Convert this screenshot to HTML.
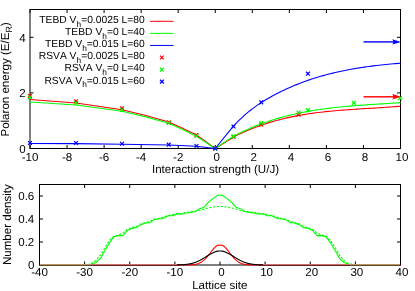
<!DOCTYPE html>
<html><head><meta charset="utf-8"><style>
html,body{margin:0;padding:0;background:#fff;}
svg{display:block;}
text{font-family:"Liberation Sans",sans-serif;font-size:11.55px;fill:#000;text-rendering:geometricPrecision;font-kerning:none;}
</style></head><body>
<svg width="415" height="291" viewBox="0 0 415 291">
<defs><filter id="idf" x="0" y="0" width="415" height="291" filterUnits="userSpaceOnUse" color-interpolation-filters="sRGB"><feOffset dx="0" dy="0"/></filter></defs>
<rect width="415" height="291" fill="#fff"/>
<g fill="none" stroke="#000" stroke-width="1">
<rect x="30.0" y="9.5" width="370.5" height="139.0"/>
<rect x="39.5" y="184.5" width="361.0" height="80.5"/>
<path d="M30.00,148.5 V145.0 M30.00,9.5 V13.0 M67.05,148.5 V145.0 M67.05,9.5 V13.0 M104.10,148.5 V145.0 M104.10,9.5 V13.0 M141.15,148.5 V145.0 M141.15,9.5 V13.0 M178.20,148.5 V145.0 M178.20,9.5 V13.0 M215.25,148.5 V145.0 M215.25,9.5 V13.0 M252.30,148.5 V145.0 M252.30,9.5 V13.0 M289.35,148.5 V145.0 M289.35,9.5 V13.0 M326.40,148.5 V145.0 M326.40,9.5 V13.0 M363.45,148.5 V145.0 M363.45,9.5 V13.0 M400.50,148.5 V145.0 M400.50,9.5 V13.0 M30.0,148.5 H33.5 M400.5,148.5 H397.0 M30.0,92.9 H33.5 M400.5,92.9 H397.0 M30.0,37.3 H33.5 M400.5,37.3 H397.0 M39.50,265.0 V261.5 M39.50,184.5 V188.0 M84.62,265.0 V261.5 M84.62,184.5 V188.0 M129.75,265.0 V261.5 M129.75,184.5 V188.0 M174.88,265.0 V261.5 M174.88,184.5 V188.0 M220.00,265.0 V261.5 M220.00,184.5 V188.0 M265.12,265.0 V261.5 M265.12,184.5 V188.0 M310.25,265.0 V261.5 M310.25,184.5 V188.0 M355.38,265.0 V261.5 M355.38,184.5 V188.0 M400.50,265.0 V261.5 M400.50,184.5 V188.0 M39.5,265.00 H43.0 M400.5,265.00 H397.0 M39.5,242.00 H43.0 M400.5,242.00 H397.0 M39.5,219.00 H43.0 M400.5,219.00 H397.0 M39.5,196.00 H43.0 M400.5,196.00 H397.0"/>
</g>
<g fill="none" stroke-width="1.1" stroke-linejoin="round">
<path d="M30.00,99.50 L76.00,103.00 L122.00,109.70 L145.00,115.20 L168.75,122.00 L182.60,128.20 L196.50,135.00 L215.25,148.50 L233.60,137.04 L236.02,135.81 L238.44,134.62 L240.86,133.47 L243.28,132.36 L245.69,131.28 L248.11,130.24 L250.53,129.24 L252.95,128.27 L255.37,127.33 L257.79,126.42 L260.21,125.55 L262.63,124.71 L265.04,123.90 L267.46,123.13 L269.88,122.38 L272.30,121.66 L274.72,120.96 L277.14,120.30 L279.56,119.66 L281.98,119.05 L284.40,118.46 L286.81,117.90 L289.23,117.36 L291.65,116.84 L294.07,116.35 L296.49,115.88 L298.91,115.43 L301.33,115.00 L303.75,114.59 L306.17,114.20 L308.58,113.83 L311.00,113.47 L313.42,113.13 L315.84,112.81 L318.26,112.51 L320.68,112.21 L323.10,111.94 L325.52,111.67 L327.93,111.42 L330.35,111.18 L332.77,110.95 L335.19,110.73 L337.61,110.52 L340.03,110.32 L342.45,110.13 L344.87,109.95 L347.29,109.77 L349.70,109.60 L352.12,109.43 L354.54,109.27 L356.96,109.12 L359.38,108.96 L361.80,108.81 L364.22,108.67 L366.64,108.52 L369.06,108.37 L371.47,108.23 L373.89,108.08 L376.31,107.93 L378.73,107.78 L381.15,107.63 L383.57,107.47 L385.99,107.31 L388.41,107.14 L390.82,106.97 L393.24,106.79 L395.66,106.60 L398.08,106.41 L400.50,106.21" stroke="#ff0000"/>
<path d="M30.00,102.00 L76.00,105.00 L122.00,111.20 L145.00,116.60 L168.75,123.30 L182.60,129.50 L196.50,136.30 L215.25,148.50 L233.60,136.15 L236.02,134.90 L238.44,133.68 L240.86,132.50 L243.28,131.36 L245.69,130.25 L248.11,129.17 L250.53,128.12 L252.95,127.11 L255.37,126.13 L257.79,125.17 L260.21,124.25 L262.63,123.36 L265.04,122.50 L267.46,121.67 L269.88,120.86 L272.30,120.08 L274.72,119.33 L277.14,118.60 L279.56,117.90 L281.98,117.23 L284.40,116.58 L286.81,115.95 L289.23,115.35 L291.65,114.76 L294.07,114.21 L296.49,113.67 L298.91,113.15 L301.33,112.66 L303.75,112.18 L306.17,111.72 L308.58,111.28 L311.00,110.86 L313.42,110.46 L315.84,110.07 L318.26,109.70 L320.68,109.35 L323.10,109.01 L325.52,108.69 L327.93,108.38 L330.35,108.08 L332.77,107.79 L335.19,107.52 L337.61,107.26 L340.03,107.01 L342.45,106.77 L344.87,106.54 L347.29,106.32 L349.70,106.11 L352.12,105.91 L354.54,105.71 L356.96,105.53 L359.38,105.34 L361.80,105.17 L364.22,105.00 L366.64,104.83 L369.06,104.67 L371.47,104.51 L373.89,104.35 L376.31,104.20 L378.73,104.05 L381.15,103.90 L383.57,103.75 L385.99,103.60 L388.41,103.45 L390.82,103.29 L393.24,103.14 L395.66,102.99 L398.08,102.83 L400.50,102.66" stroke="#00ff00"/>
<path d="M30.00,143.50 L76.00,143.60 L122.00,144.25 L168.75,145.00 L196.50,146.30 L215.25,148.50 L233.60,125.95 L236.02,123.36 L238.44,120.90 L240.86,118.55 L243.28,116.32 L245.69,114.18 L248.11,112.15 L250.53,110.21 L252.95,108.35 L255.37,106.58 L257.79,104.89 L260.21,103.27 L262.63,101.72 L265.04,100.22 L267.46,98.78 L269.88,97.40 L272.30,96.05 L274.72,94.75 L277.14,93.48 L279.56,92.25 L281.98,91.06 L284.40,89.90 L286.81,88.78 L289.23,87.69 L291.65,86.64 L294.07,85.61 L296.49,84.62 L298.91,83.66 L301.33,82.74 L303.75,81.84 L306.17,80.97 L308.58,80.12 L311.00,79.31 L313.42,78.52 L315.84,77.76 L318.26,77.02 L320.68,76.31 L323.10,75.62 L325.52,74.96 L327.93,74.32 L330.35,73.70 L332.77,73.11 L335.19,72.53 L337.61,71.98 L340.03,71.45 L342.45,70.94 L344.87,70.45 L347.29,69.97 L349.70,69.52 L352.12,69.08 L354.54,68.66 L356.96,68.26 L359.38,67.87 L361.80,67.50 L364.22,67.14 L366.64,66.80 L369.06,66.47 L371.47,66.15 L373.89,65.85 L376.31,65.56 L378.73,65.28 L381.15,65.01 L383.57,64.76 L385.99,64.51 L388.41,64.27 L390.82,64.04 L393.24,63.82 L395.66,63.61 L398.08,63.40 L400.50,63.20" stroke="#0000ff"/>
</g>
<path d="M28.10,94.10 L31.90,97.90 M28.10,97.90 L31.90,94.10" stroke="#ff0000" stroke-width="1.25" fill="none"/>
<path d="M74.10,99.35 L77.90,103.15 M74.10,103.15 L77.90,99.35" stroke="#ff0000" stroke-width="1.25" fill="none"/>
<path d="M120.10,106.35 L123.90,110.15 M120.10,110.15 L123.90,106.35" stroke="#ff0000" stroke-width="1.25" fill="none"/>
<path d="M166.85,120.40 L170.65,124.20 M166.85,124.20 L170.65,120.40" stroke="#ff0000" stroke-width="1.25" fill="none"/>
<path d="M194.60,133.10 L198.40,136.90 M194.60,136.90 L198.40,133.10" stroke="#ff0000" stroke-width="1.25" fill="none"/>
<path d="M213.35,146.60 L217.15,150.40 M213.35,150.40 L217.15,146.60" stroke="#ff0000" stroke-width="1.25" fill="none"/>
<path d="M231.60,135.10 L235.40,138.90 M231.60,138.90 L235.40,135.10" stroke="#ff0000" stroke-width="1.25" fill="none"/>
<path d="M259.35,122.80 L263.15,126.60 M259.35,126.60 L263.15,122.80" stroke="#ff0000" stroke-width="1.25" fill="none"/>
<path d="M296.70,112.70 L300.50,116.50 M296.70,116.50 L300.50,112.70" stroke="#ff0000" stroke-width="1.25" fill="none"/>
<path d="M28.10,95.60 L31.90,99.40 M28.10,99.40 L31.90,95.60" stroke="#00ff00" stroke-width="1.25" fill="none"/>
<path d="M74.10,101.10 L77.90,104.90 M74.10,104.90 L77.90,101.10" stroke="#00ff00" stroke-width="1.25" fill="none"/>
<path d="M120.10,108.10 L123.90,111.90 M120.10,111.90 L123.90,108.10" stroke="#00ff00" stroke-width="1.25" fill="none"/>
<path d="M166.85,121.10 L170.65,124.90 M166.85,124.90 L170.65,121.10" stroke="#00ff00" stroke-width="1.25" fill="none"/>
<path d="M194.60,134.10 L198.40,137.90 M194.60,137.90 L198.40,134.10" stroke="#00ff00" stroke-width="1.25" fill="none"/>
<path d="M213.35,146.60 L217.15,150.40 M213.35,150.40 L217.15,146.60" stroke="#00ff00" stroke-width="1.25" fill="none"/>
<path d="M231.60,134.40 L235.40,138.20 M231.60,138.20 L235.40,134.40" stroke="#00ff00" stroke-width="1.25" fill="none"/>
<path d="M259.35,121.10 L263.15,124.90 M259.35,124.90 L263.15,121.10" stroke="#00ff00" stroke-width="1.25" fill="none"/>
<path d="M296.70,110.60 L300.50,114.40 M296.70,114.40 L300.50,110.60" stroke="#00ff00" stroke-width="1.25" fill="none"/>
<path d="M306.00,108.20 L309.80,112.00 M306.00,112.00 L309.80,108.20" stroke="#00ff00" stroke-width="1.25" fill="none"/>
<path d="M352.00,101.00 L355.80,104.80 M352.00,104.80 L355.80,101.00" stroke="#00ff00" stroke-width="1.25" fill="none"/>
<path d="M398.10,96.20 L401.90,100.00 M398.10,100.00 L401.90,96.20" stroke="#00ff00" stroke-width="1.25" fill="none"/>
<path d="M28.10,141.10 L31.90,144.90 M28.10,144.90 L31.90,141.10" stroke="#0000ff" stroke-width="1.25" fill="none"/>
<path d="M74.10,141.10 L77.90,144.90 M74.10,144.90 L77.90,141.10" stroke="#0000ff" stroke-width="1.25" fill="none"/>
<path d="M120.10,141.85 L123.90,145.65 M120.10,145.65 L123.90,141.85" stroke="#0000ff" stroke-width="1.25" fill="none"/>
<path d="M166.85,142.80 L170.65,146.60 M166.85,146.60 L170.65,142.80" stroke="#0000ff" stroke-width="1.25" fill="none"/>
<path d="M194.60,144.10 L198.40,147.90 M194.60,147.90 L198.40,144.10" stroke="#0000ff" stroke-width="1.25" fill="none"/>
<path d="M213.35,146.60 L217.15,150.40 M213.35,150.40 L217.15,146.60" stroke="#0000ff" stroke-width="1.25" fill="none"/>
<path d="M231.60,124.60 L235.40,128.40 M231.60,128.40 L235.40,124.60" stroke="#0000ff" stroke-width="1.25" fill="none"/>
<path d="M259.35,100.40 L263.15,104.20 M259.35,104.20 L263.15,100.40" stroke="#0000ff" stroke-width="1.25" fill="none"/>
<path d="M306.00,71.80 L309.80,75.60 M306.00,75.60 L309.80,71.80" stroke="#0000ff" stroke-width="1.25" fill="none"/>
<path d="M363.5,41.9 H395" stroke="#0000ff" stroke-width="1.4" fill="none"/>
<path d="M400.9,41.9 L392.4,39.2 L393.6,41.9 L392.4,44.6 Z" fill="#0000ff"/>
<path d="M363.5,96.8 H395" stroke="#ff0000" stroke-width="1.4" fill="none"/>
<path d="M400.9,96.8 L392.4,94.1 L393.6,96.8 L392.4,99.5 Z" fill="#ff0000"/>
<path d="M150,21.30 H173.5" stroke="#ff0000" stroke-width="1" fill="none"/><path d="M150,33.37 H173.5" stroke="#00ff00" stroke-width="1" fill="none"/><path d="M150,45.44 H173.5" stroke="#0000ff" stroke-width="1" fill="none"/><path d="M160.00,55.61 L163.80,59.41 M160.00,59.41 L163.80,55.61" stroke="#ff0000" stroke-width="1.25" fill="none"/><path d="M160.00,67.68 L163.80,71.48 M160.00,71.48 L163.80,67.68" stroke="#00ff00" stroke-width="1.25" fill="none"/><path d="M160.00,79.75 L163.80,83.55 M160.00,83.55 L163.80,79.75" stroke="#0000ff" stroke-width="1.25" fill="none"/>
<g fill="none" stroke-width="1.1" stroke-linejoin="round">
<path d="M39.50,265.00 L40.63,265.00 L41.76,265.00 L42.88,265.00 L44.01,265.00 L45.14,265.00 L46.27,265.00 L47.40,265.00 L48.52,265.00 L49.65,265.00 L50.78,265.00 L51.91,265.00 L53.04,265.00 L54.17,265.00 L55.29,265.00 L56.42,265.00 L57.55,265.00 L58.68,265.00 L59.81,265.00 L60.93,265.00 L62.06,265.00 L63.19,265.00 L64.32,265.00 L65.45,265.00 L66.58,265.00 L67.70,265.00 L68.83,265.00 L69.96,265.00 L71.09,265.00 L72.22,265.00 L73.34,265.00 L74.47,265.00 L75.60,265.00 L76.73,265.00 L77.86,265.00 L78.98,265.00 L80.11,265.00 L81.24,265.00 L82.37,265.00 L83.50,265.00 L84.62,265.00 L85.75,265.00 L86.88,265.00 L88.01,265.00 L89.14,265.00 L90.27,265.00 L91.39,265.00 L92.52,265.00 L93.65,265.00 L94.78,265.00 L95.91,265.00 L97.03,265.00 L98.16,265.00 L99.29,265.00 L100.42,265.00 L101.55,265.00 L102.67,265.00 L103.80,265.00 L104.93,265.00 L106.06,265.00 L107.19,265.00 L108.32,265.00 L109.44,265.00 L110.57,265.00 L111.70,265.00 L112.83,265.00 L113.96,265.00 L115.08,265.00 L116.21,265.00 L117.34,265.00 L118.47,265.00 L119.60,265.00 L120.72,265.00 L121.85,265.00 L122.98,265.00 L124.11,265.00 L125.24,265.00 L126.37,265.00 L127.49,265.00 L128.62,265.00 L129.75,265.00 L130.88,265.00 L132.01,265.00 L133.13,265.00 L134.26,265.00 L135.39,265.00 L136.52,265.00 L137.65,265.00 L138.78,265.00 L139.90,265.00 L141.03,265.00 L142.16,265.00 L143.29,265.00 L144.42,265.00 L145.54,265.00 L146.67,265.00 L147.80,265.00 L148.93,265.00 L150.06,265.00 L151.18,265.00 L152.31,265.00 L153.44,265.00 L154.57,265.00 L155.70,265.00 L156.82,265.00 L157.95,265.00 L159.08,265.00 L160.21,265.00 L161.34,265.00 L162.47,265.00 L163.59,265.00 L164.72,265.00 L165.85,265.00 L166.98,265.00 L168.11,265.00 L169.23,265.00 L170.36,265.00 L171.49,265.00 L172.62,265.00 L173.75,265.00 L174.88,265.00 L176.00,265.00 L177.13,265.00 L178.26,265.00 L179.39,265.00 L180.52,265.00 L181.64,264.99 L182.77,264.99 L183.90,264.99 L185.03,264.98 L186.16,264.97 L187.28,264.95 L188.41,264.92 L189.54,264.88 L190.67,264.83 L191.80,264.76 L192.93,264.65 L194.05,264.52 L195.18,264.34 L196.31,264.10 L197.44,263.80 L198.57,263.41 L199.69,262.94 L200.82,262.36 L201.95,261.66 L203.08,260.84 L204.21,259.90 L205.33,258.82 L206.46,257.62 L207.59,256.32 L208.72,254.92 L209.85,253.47 L210.97,251.99 L212.10,250.53 L213.23,249.14 L214.36,247.85 L215.49,246.73 L216.62,245.83 L217.74,245.27 L218.87,245.16 L220.00,245.22 L221.13,245.16 L222.26,245.27 L223.38,245.83 L224.51,246.73 L225.64,247.85 L226.77,249.14 L227.90,250.53 L229.03,251.99 L230.15,253.47 L231.28,254.92 L232.41,256.32 L233.54,257.62 L234.67,258.82 L235.79,259.90 L236.92,260.84 L238.05,261.66 L239.18,262.36 L240.31,262.94 L241.43,263.41 L242.56,263.80 L243.69,264.10 L244.82,264.34 L245.95,264.52 L247.07,264.65 L248.20,264.76 L249.33,264.83 L250.46,264.88 L251.59,264.92 L252.72,264.95 L253.84,264.97 L254.97,264.98 L256.10,264.99 L257.23,264.99 L258.36,264.99 L259.48,265.00 L260.61,265.00 L261.74,265.00 L262.87,265.00 L264.00,265.00 L265.12,265.00 L266.25,265.00 L267.38,265.00 L268.51,265.00 L269.64,265.00 L270.77,265.00 L271.89,265.00 L273.02,265.00 L274.15,265.00 L275.28,265.00 L276.41,265.00 L277.53,265.00 L278.66,265.00 L279.79,265.00 L280.92,265.00 L282.05,265.00 L283.18,265.00 L284.30,265.00 L285.43,265.00 L286.56,265.00 L287.69,265.00 L288.82,265.00 L289.94,265.00 L291.07,265.00 L292.20,265.00 L293.33,265.00 L294.46,265.00 L295.58,265.00 L296.71,265.00 L297.84,265.00 L298.97,265.00 L300.10,265.00 L301.23,265.00 L302.35,265.00 L303.48,265.00 L304.61,265.00 L305.74,265.00 L306.87,265.00 L307.99,265.00 L309.12,265.00 L310.25,265.00 L311.38,265.00 L312.51,265.00 L313.63,265.00 L314.76,265.00 L315.89,265.00 L317.02,265.00 L318.15,265.00 L319.27,265.00 L320.40,265.00 L321.53,265.00 L322.66,265.00 L323.79,265.00 L324.92,265.00 L326.04,265.00 L327.17,265.00 L328.30,265.00 L329.43,265.00 L330.56,265.00 L331.68,265.00 L332.81,265.00 L333.94,265.00 L335.07,265.00 L336.20,265.00 L337.32,265.00 L338.45,265.00 L339.58,265.00 L340.71,265.00 L341.84,265.00 L342.97,265.00 L344.09,265.00 L345.22,265.00 L346.35,265.00 L347.48,265.00 L348.61,265.00 L349.73,265.00 L350.86,265.00 L351.99,265.00 L353.12,265.00 L354.25,265.00 L355.38,265.00 L356.50,265.00 L357.63,265.00 L358.76,265.00 L359.89,265.00 L361.02,265.00 L362.14,265.00 L363.27,265.00 L364.40,265.00 L365.53,265.00 L366.66,265.00 L367.78,265.00 L368.91,265.00 L370.04,265.00 L371.17,265.00 L372.30,265.00 L373.43,265.00 L374.55,265.00 L375.68,265.00 L376.81,265.00 L377.94,265.00 L379.07,265.00 L380.19,265.00 L381.32,265.00 L382.45,265.00 L383.58,265.00 L384.71,265.00 L385.83,265.00 L386.96,265.00 L388.09,265.00 L389.22,265.00 L390.35,265.00 L391.48,265.00 L392.60,265.00 L393.73,265.00 L394.86,265.00 L395.99,265.00 L397.12,265.00 L398.24,265.00 L399.37,265.00 L400.50,265.00" stroke="#ff0000"/>
<path d="M41.76,265.00 L46.27,265.00 L50.78,265.00 L55.29,265.00 L59.81,265.00 L64.32,265.00 L68.83,265.00 L73.34,265.00 L77.86,265.00 L82.37,265.00 L86.88,265.00 L91.39,264.33 L95.91,262.51 L100.42,258.55 L104.93,250.48 L109.44,242.92 L113.96,236.65 L118.47,235.62 L122.98,235.67 L127.49,230.43 L132.01,228.37 L136.52,227.63 L141.03,224.62 L145.54,222.94 L150.06,222.63 L154.57,219.40 L159.08,218.94 L163.59,218.23 L168.11,215.65 L172.62,215.78 L177.13,213.64 L181.64,214.24 L186.16,212.94 L190.67,212.37 L195.18,211.53 L199.69,208.65 L204.21,207.16 L208.72,201.98 L213.23,198.42 L217.74,195.31 L222.26,195.31 L226.77,198.42 L231.28,201.98 L235.79,207.16 L240.31,208.65 L244.82,211.53 L249.33,212.37 L253.84,212.94 L258.36,214.24 L262.87,213.64 L267.38,215.78 L271.89,215.65 L276.41,218.23 L280.92,218.94 L285.43,219.40 L289.94,222.63 L294.46,222.94 L298.97,224.62 L303.48,227.63 L307.99,228.37 L312.51,230.43 L317.02,235.67 L321.53,235.62 L326.04,236.65 L330.56,242.92 L335.07,250.48 L339.58,258.55 L344.09,262.51 L348.61,264.33 L353.12,265.00 L357.63,265.00 L362.14,265.00 L366.66,265.00 L371.17,265.00 L375.68,265.00 L380.19,265.00 L384.71,265.00 L389.22,265.00 L393.73,265.00 L398.24,265.00" stroke="#00ff00"/>
<path d="M41.76,265.00 L46.27,265.00 L50.78,265.00 L55.29,265.00 L59.81,265.00 L64.32,265.00 L68.83,265.00 L73.34,265.00 L77.86,265.00 L82.37,264.97 L86.88,264.64 L91.39,263.41 L95.91,260.55 L100.42,255.17 L104.93,247.53 L109.44,240.40 L113.96,236.04 L118.47,235.08 L122.98,232.93 L127.49,229.39 L132.01,227.73 L136.52,226.19 L141.03,223.78 L145.54,222.53 L150.06,221.11 L154.57,219.14 L159.08,218.28 L163.59,217.02 L168.11,215.50 L172.62,214.56 L177.13,213.66 L181.64,213.33 L186.16,212.50 L190.67,211.78 L195.18,211.53 L199.69,210.47 L204.21,209.05 L208.72,207.88 L213.23,207.01 L217.74,206.48 L222.26,206.48 L226.77,207.01 L231.28,207.88 L235.79,209.05 L240.31,210.47 L244.82,211.53 L249.33,211.78 L253.84,212.50 L258.36,213.33 L262.87,213.66 L267.38,214.56 L271.89,215.50 L276.41,217.02 L280.92,218.28 L285.43,219.14 L289.94,221.11 L294.46,222.53 L298.97,223.78 L303.48,226.19 L307.99,227.73 L312.51,229.39 L317.02,232.93 L321.53,235.08 L326.04,236.04 L330.56,240.40 L335.07,247.53 L339.58,255.17 L344.09,260.55 L348.61,263.41 L353.12,264.64 L357.63,264.97 L362.14,265.00 L366.66,265.00 L371.17,265.00 L375.68,265.00 L380.19,265.00 L384.71,265.00 L389.22,265.00 L393.73,265.00 L398.24,265.00" stroke="#00ff00" stroke-dasharray="2.2,1.6"/>
<path d="M39.50,265.00 L40.63,265.00 L41.76,265.00 L42.88,265.00 L44.01,265.00 L45.14,265.00 L46.27,265.00 L47.40,265.00 L48.52,265.00 L49.65,265.00 L50.78,265.00 L51.91,265.00 L53.04,265.00 L54.17,265.00 L55.29,265.00 L56.42,265.00 L57.55,265.00 L58.68,265.00 L59.81,265.00 L60.93,265.00 L62.06,265.00 L63.19,265.00 L64.32,265.00 L65.45,265.00 L66.58,265.00 L67.70,265.00 L68.83,265.00 L69.96,265.00 L71.09,265.00 L72.22,265.00 L73.34,265.00 L74.47,265.00 L75.60,265.00 L76.73,265.00 L77.86,265.00 L78.98,265.00 L80.11,265.00 L81.24,265.00 L82.37,265.00 L83.50,265.00 L84.62,265.00 L85.75,265.00 L86.88,265.00 L88.01,265.00 L89.14,265.00 L90.27,265.00 L91.39,265.00 L92.52,265.00 L93.65,265.00 L94.78,265.00 L95.91,265.00 L97.03,265.00 L98.16,265.00 L99.29,265.00 L100.42,265.00 L101.55,265.00 L102.67,265.00 L103.80,265.00 L104.93,265.00 L106.06,265.00 L107.19,265.00 L108.32,265.00 L109.44,265.00 L110.57,265.00 L111.70,265.00 L112.83,265.00 L113.96,265.00 L115.08,265.00 L116.21,265.00 L117.34,265.00 L118.47,265.00 L119.60,265.00 L120.72,265.00 L121.85,265.00 L122.98,265.00 L124.11,265.00 L125.24,265.00 L126.37,265.00 L127.49,265.00 L128.62,265.00 L129.75,265.00 L130.88,265.00 L132.01,265.00 L133.13,265.00 L134.26,265.00 L135.39,265.00 L136.52,265.00 L137.65,265.00 L138.78,265.00 L139.90,265.00 L141.03,265.00 L142.16,265.00 L143.29,265.00 L144.42,265.00 L145.54,265.00 L146.67,265.00 L147.80,265.00 L148.93,265.00 L150.06,265.00 L151.18,265.00 L152.31,265.00 L153.44,265.00 L154.57,265.00 L155.70,265.00 L156.82,265.00 L157.95,265.00 L159.08,265.00 L160.21,265.00 L161.34,265.00 L162.47,265.00 L163.59,265.00 L164.72,265.00 L165.85,265.00 L166.98,264.99 L168.11,264.99 L169.23,264.99 L170.36,264.98 L171.49,264.98 L172.62,264.97 L173.75,264.96 L174.88,264.95 L176.00,264.93 L177.13,264.91 L178.26,264.88 L179.39,264.84 L180.52,264.80 L181.64,264.75 L182.77,264.68 L183.90,264.60 L185.03,264.50 L186.16,264.38 L187.28,264.24 L188.41,264.08 L189.54,263.88 L190.67,263.66 L191.80,263.40 L192.93,263.10 L194.05,262.76 L195.18,262.39 L196.31,261.97 L197.44,261.50 L198.57,260.99 L199.69,260.45 L200.82,259.86 L201.95,259.23 L203.08,258.58 L204.21,257.90 L205.33,257.20 L206.46,256.49 L207.59,255.78 L208.72,255.09 L209.85,254.41 L210.97,253.77 L212.10,253.17 L213.23,252.62 L214.36,252.14 L215.49,251.73 L216.62,251.40 L217.74,251.16 L218.87,251.02 L220.00,250.97 L221.13,251.02 L222.26,251.16 L223.38,251.40 L224.51,251.73 L225.64,252.14 L226.77,252.62 L227.90,253.17 L229.03,253.77 L230.15,254.41 L231.28,255.09 L232.41,255.78 L233.54,256.49 L234.67,257.20 L235.79,257.90 L236.92,258.58 L238.05,259.23 L239.18,259.86 L240.31,260.45 L241.43,260.99 L242.56,261.50 L243.69,261.97 L244.82,262.39 L245.95,262.76 L247.07,263.10 L248.20,263.40 L249.33,263.66 L250.46,263.88 L251.59,264.08 L252.72,264.24 L253.84,264.38 L254.97,264.50 L256.10,264.60 L257.23,264.68 L258.36,264.75 L259.48,264.80 L260.61,264.84 L261.74,264.88 L262.87,264.91 L264.00,264.93 L265.12,264.95 L266.25,264.96 L267.38,264.97 L268.51,264.98 L269.64,264.98 L270.77,264.99 L271.89,264.99 L273.02,264.99 L274.15,265.00 L275.28,265.00 L276.41,265.00 L277.53,265.00 L278.66,265.00 L279.79,265.00 L280.92,265.00 L282.05,265.00 L283.18,265.00 L284.30,265.00 L285.43,265.00 L286.56,265.00 L287.69,265.00 L288.82,265.00 L289.94,265.00 L291.07,265.00 L292.20,265.00 L293.33,265.00 L294.46,265.00 L295.58,265.00 L296.71,265.00 L297.84,265.00 L298.97,265.00 L300.10,265.00 L301.23,265.00 L302.35,265.00 L303.48,265.00 L304.61,265.00 L305.74,265.00 L306.87,265.00 L307.99,265.00 L309.12,265.00 L310.25,265.00 L311.38,265.00 L312.51,265.00 L313.63,265.00 L314.76,265.00 L315.89,265.00 L317.02,265.00 L318.15,265.00 L319.27,265.00 L320.40,265.00 L321.53,265.00 L322.66,265.00 L323.79,265.00 L324.92,265.00 L326.04,265.00 L327.17,265.00 L328.30,265.00 L329.43,265.00 L330.56,265.00 L331.68,265.00 L332.81,265.00 L333.94,265.00 L335.07,265.00 L336.20,265.00 L337.32,265.00 L338.45,265.00 L339.58,265.00 L340.71,265.00 L341.84,265.00 L342.97,265.00 L344.09,265.00 L345.22,265.00 L346.35,265.00 L347.48,265.00 L348.61,265.00 L349.73,265.00 L350.86,265.00 L351.99,265.00 L353.12,265.00 L354.25,265.00 L355.38,265.00 L356.50,265.00 L357.63,265.00 L358.76,265.00 L359.89,265.00 L361.02,265.00 L362.14,265.00 L363.27,265.00 L364.40,265.00 L365.53,265.00 L366.66,265.00 L367.78,265.00 L368.91,265.00 L370.04,265.00 L371.17,265.00 L372.30,265.00 L373.43,265.00 L374.55,265.00 L375.68,265.00 L376.81,265.00 L377.94,265.00 L379.07,265.00 L380.19,265.00 L381.32,265.00 L382.45,265.00 L383.58,265.00 L384.71,265.00 L385.83,265.00 L386.96,265.00 L388.09,265.00 L389.22,265.00 L390.35,265.00 L391.48,265.00 L392.60,265.00 L393.73,265.00 L394.86,265.00 L395.99,265.00 L397.12,265.00 L398.24,265.00 L399.37,265.00 L400.50,265.00" stroke="#000"/>
</g>
<rect x="40.00" y="264" width="50.94" height="1" fill="#c88c72"/><rect x="40.00" y="265" width="50.94" height="1" fill="#4c5518"/><rect x="90.94" y="264" width="86.19" height="1" fill="#c87070"/><rect x="90.94" y="265" width="86.19" height="1" fill="#702020"/><rect x="349.06" y="264" width="50.94" height="1" fill="#c88c72"/><rect x="349.06" y="265" width="50.94" height="1" fill="#4c5518"/><rect x="262.87" y="264" width="86.19" height="1" fill="#c87070"/><rect x="262.87" y="265" width="86.19" height="1" fill="#702020"/>
<g filter="url(#idf)"><text x="30.00" y="160.7" text-anchor="middle" >-10</text><text x="67.05" y="160.7" text-anchor="middle" >-8</text><text x="104.10" y="160.7" text-anchor="middle" >-6</text><text x="141.15" y="160.7" text-anchor="middle" >-4</text><text x="178.20" y="160.7" text-anchor="middle" >-2</text><text x="216.75" y="160.7" text-anchor="middle" >0</text><text x="253.80" y="160.7" text-anchor="middle" >2</text><text x="290.85" y="160.7" text-anchor="middle" >4</text><text x="327.90" y="160.7" text-anchor="middle" >6</text><text x="364.95" y="160.7" text-anchor="middle" >8</text><text x="402.00" y="160.7" text-anchor="middle" >10</text><text x="25.6" y="152.85" text-anchor="end" >0</text><text x="25.6" y="97.25" text-anchor="end" >2</text><text x="25.6" y="41.65" text-anchor="end" >4</text><text x="39.50" y="276.3" text-anchor="middle" >-40</text><text x="84.62" y="276.3" text-anchor="middle" >-30</text><text x="129.75" y="276.3" text-anchor="middle" >-20</text><text x="174.88" y="276.3" text-anchor="middle" >-10</text><text x="221.50" y="276.3" text-anchor="middle" >0</text><text x="266.62" y="276.3" text-anchor="middle" >10</text><text x="311.75" y="276.3" text-anchor="middle" >20</text><text x="356.88" y="276.3" text-anchor="middle" >30</text><text x="402.00" y="276.3" text-anchor="middle" >40</text><text x="34.3" y="269.1" text-anchor="end" >0</text><text x="34.3" y="246.1" text-anchor="end" >0.2</text><text x="34.3" y="223.1" text-anchor="end" >0.4</text><text x="34.3" y="200.1" text-anchor="end" >0.6</text><text x="215.5" y="172.5" text-anchor="middle" >Interaction strength (U/J)</text><text x="219.8" y="288.6" text-anchor="middle" >Lattice site</text><text transform="translate(9.4,79.4) rotate(-90)" text-anchor="middle">Polaron energy (E/E<tspan dy="3" font-size="9">R</tspan><tspan dy="-3">)</tspan></text><text transform="translate(11.0,224.6) rotate(-90)" text-anchor="middle">Number density</text><text x="144.7" y="23.20" text-anchor="end" style="font-size:10.3px">TEBD V<tspan dy="3.7" style="font-size:8.3px">h</tspan><tspan dy="-3.7">=0.0025 L=80</tspan></text><text x="144.7" y="35.27" text-anchor="end" style="font-size:10.3px">TEBD V<tspan dy="3.7" style="font-size:8.3px">h</tspan><tspan dy="-3.7">=0 L=40</tspan></text><text x="144.7" y="47.34" text-anchor="end" style="font-size:10.3px">TEBD V<tspan dy="3.7" style="font-size:8.3px">h</tspan><tspan dy="-3.7">=0.015 L=60</tspan></text><text x="144.7" y="59.41" text-anchor="end" style="font-size:10.3px">RSVA V<tspan dy="3.7" style="font-size:8.3px">h</tspan><tspan dy="-3.7">=0.0025 L=80</tspan></text><text x="144.7" y="71.48" text-anchor="end" style="font-size:10.3px">RSVA V<tspan dy="3.7" style="font-size:8.3px">h</tspan><tspan dy="-3.7">=0 L=40</tspan></text><text x="144.7" y="83.55" text-anchor="end" style="font-size:10.3px">RSVA V<tspan dy="3.7" style="font-size:8.3px">h</tspan><tspan dy="-3.7">=0.015 L=60</tspan></text></g>
</svg>
</body></html>
